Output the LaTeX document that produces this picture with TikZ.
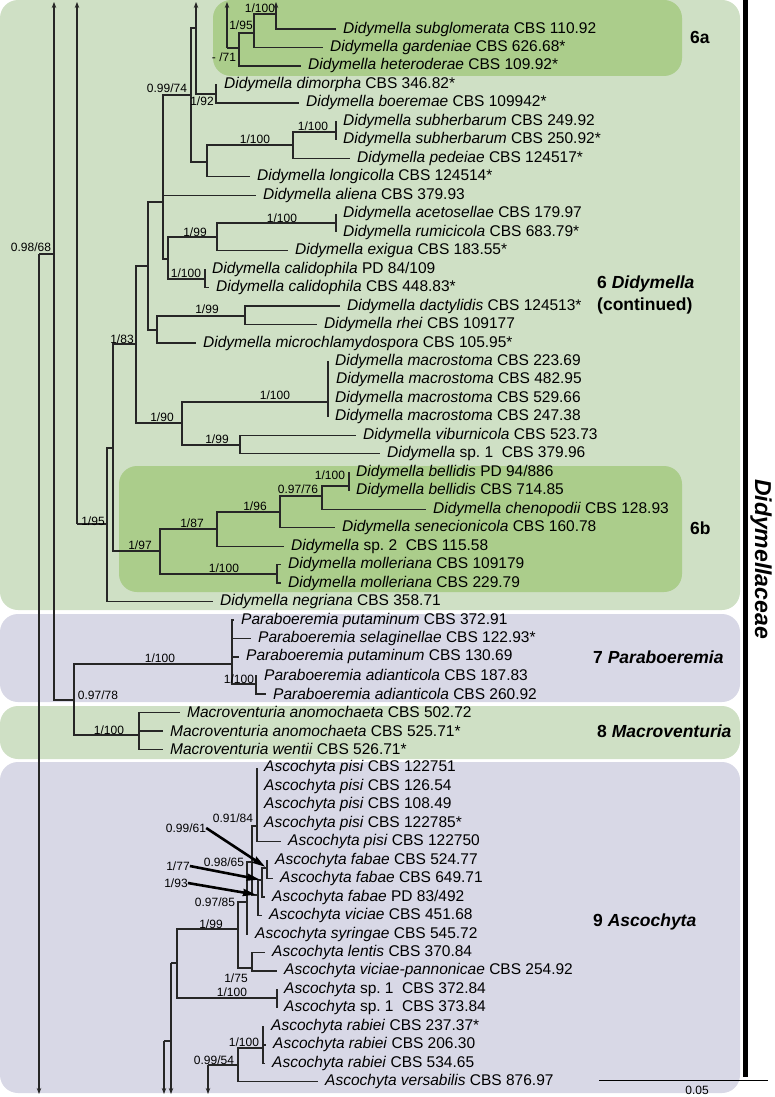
\documentclass[tikz,border=0pt]{standalone}
\usepackage{fontspec}
\setmainfont{Liberation Sans}
\usetikzlibrary{arrows.meta}
\definecolor{didgreen}{HTML}{CFE0C5}
\definecolor{subgreen}{HTML}{ABCD8B}
\definecolor{cladelila}{HTML}{D8D8E6}

\newcommand{\taxfont}{\fontsize{15.5}{18}\selectfont}
\newcommand{\supfont}{\fontsize{12}{14}\selectfont}
\newcommand{\cladefont}{\fontsize{17.5}{22}\selectfont\bfseries}

\tikzset{
  rama/.style={draw=black!85, line width=1.3pt},
  sigue/.style={rama, -{Stealth[length=6pt,width=4.5pt]}},
  taxon/.style={anchor=west, inner sep=0pt, font=\taxfont},
  soporte/.style={inner sep=0pt, font=\supfont},
  clado/.style={anchor=west, inner sep=0pt, font=\cladefont, align=left},
  flecha/.style={line width=2.6pt, -{Stealth[length=13pt,width=7pt,inset=1pt]}, shorten >=2pt},
  fondo/.style={rounded corners=18pt},
}

\begin{document}
\begin{tikzpicture}[x=1pt,y=-1pt]
  \useasboundingbox (0,0) rectangle (774,1097);

  % Fondos de los clados
  \fill[didgreen, fondo]  (0,0) rectangle (740,610);
  \fill[subgreen, fondo]  (213,0) rectangle (682,76);
  \fill[subgreen, fondo]  (119,466) rectangle (682,592);
  \fill[cladelila, fondo] (0,614) rectangle (740,702);
  \fill[didgreen, fondo]  (0,706) rectangle (740,759);
  \fill[cladelila, fondo] (0,762) rectangle (740,1093);

  % Terminales
  \foreach \i/\x/\lab in {
    1/336/{\textit{Didymella subglomerata} CBS 110.92},
    2/323/{\textit{Didymella gardeniae} CBS 626.68*},
    3/301/{\textit{Didymella heteroderae} CBS 109.92*},
    4/217/{\textit{Didymella dimorpha} CBS 346.82*},
    5/299/{\textit{Didymella boeremae} CBS 109942*},
    6/336/{\textit{Didymella subherbarum} CBS 249.92},
    7/336/{\textit{Didymella subherbarum} CBS 250.92*},
    8/350/{\textit{Didymella pedeiae} CBS 124517*},
    9/250/{\textit{Didymella longicolla} CBS 124514*},
    10/256/{\textit{Didymella aliena} CBS 379.93},
    11/336/{\textit{Didymella acetosellae} CBS 179.97},
    12/336/{\textit{Didymella rumicicola} CBS 683.79*},
    13/288/{\textit{Didymella exigua} CBS 183.55*},
    14/205/{\textit{Didymella calidophila} PD 84/109},
    15/209/{\textit{Didymella calidophila} CBS 448.83*},
    16/340/{\textit{Didymella dactylidis} CBS 124513*},
    17/317/{\textit{Didymella rhei} CBS 109177},
    18/196/{\textit{Didymella microchlamydospora} CBS 105.95*},
    19/328/{\textit{Didymella macrostoma} CBS 223.69},
    20/329/{\textit{Didymella macrostoma} CBS 482.95},
    21/328/{\textit{Didymella macrostoma} CBS 529.66},
    22/328/{\textit{Didymella macrostoma} CBS 247.38},
    23/356/{\textit{Didymella viburnicola} CBS 523.73},
    24/380/{\textit{Didymella} sp.\ 1\ \ CBS 379.96},
    25/349/{\textit{Didymella bellidis} PD 94/886},
    26/349/{\textit{Didymella bellidis} CBS 714.85},
    27/426/{\textit{Didymella chenopodii} CBS 128.93},
    28/335/{\textit{Didymella senecionicola} CBS 160.78},
    29/284/{\textit{Didymella} sp.\ 2\ \ CBS 115.58},
    30/281/{\textit{Didymella molleriana} CBS 109179},
    31/281/{\textit{Didymella molleriana} CBS 229.79},
    32/213/{\textit{Didymella negriana} CBS 358.71},
    33/234/{\textit{Paraboeremia putaminum} CBS 372.91},
    34/251/{\textit{Paraboeremia selaginellae} CBS 122.93*},
    35/239/{\textit{Paraboeremia putaminum} CBS 130.69},
    36/257/{\textit{Paraboeremia adianticola} CBS 187.83},
    37/266/{\textit{Paraboeremia adianticola} CBS 260.92},
    38/180/{\textit{Macroventuria anomochaeta} CBS 502.72},
    39/163/{\textit{Macroventuria anomochaeta} CBS 525.71*},
    40/163/{\textit{Macroventuria wentii} CBS 526.71*},
    41/257/{\textit{Ascochyta pisi} CBS 122751},
    42/257/{\textit{Ascochyta pisi} CBS 126.54},
    43/257/{\textit{Ascochyta pisi} CBS 108.49},
    44/257/{\textit{Ascochyta pisi} CBS 122785*},
    45/281/{\textit{Ascochyta pisi} CBS 122750},
    46/268/{\textit{Ascochyta fabae} CBS 524.77},
    47/273/{\textit{Ascochyta fabae} CBS 649.71},
    48/265/{\textit{Ascochyta fabae} PD 83/492},
    49/262/{\textit{Ascochyta viciae} CBS 451.68},
    50/248/{\textit{Ascochyta syringae} CBS 545.72},
    51/265/{\textit{Ascochyta lentis} CBS 370.84},
    52/277/{\textit{Ascochyta viciae-pannonicae} CBS 254.92},
    53/277/{\textit{Ascochyta} sp.\ 1\ \ CBS 372.84},
    54/277/{\textit{Ascochyta} sp.\ 1\ \ CBS 373.84},
    55/264/{\textit{Ascochyta rabiei} CBS 237.37*},
    56/266/{\textit{Ascochyta rabiei} CBS 206.30},
    57/265/{\textit{Ascochyta rabiei} CBS 534.65},
    58/318/{\textit{Ascochyta versabilis} CBS 876.97}}{
    \coordinate (t\i) at (\x,{29+18.47*(\i-1)});
    \node[taxon] (l\i) at ([xshift=7pt]t\i) {\lab};
  }

  % Nodos internos
  \foreach \n/\x/\y in {n1/276/14, n2/254/33, n3/239/48, c4/227/48,
    n5/196/28, n6/216/94, n7/191/95, n8/207/162, n9/293/145, n9b/336/132,
    n10/163/202, n11/168/259, n11a/217/237, n11c/336/223, n11b/205/279,
    n12/148/266, n13/157/330, n13a/245/316, n14/136/344, n15/182/423,
    n15a/328/402, n15b/240/445, n16/113/448, n17/107/524, n18/160/551,
    n18a/217/529, n18c/280/512, n18d/322/496, n18e/349/486, n18b/277/574,
    n19/77/524, n20/54/254, n21/39/254, n22/74/700, n23/232/664,
    n23a/256/684, n24/139/735,
    n31/164/1041, n32/171/963, n33/177/963, n34/238/929, n35/277/998,
    nA/247/902, nB/252/862, nP/257/826, nF3/258/895, nF2/262/880,
    nF1/267/868, n37/252/968, n38/208/1065, n39/238/1065, n40/263/1048}
    \coordinate (\n) at (\x,\y);
  \coordinate (arriba) at (0,2);
  \coordinate (abajo) at (0,1094);

  % Ramas
  \foreach \p/\c in {n1/t1, n2/n1, n2/t2, n3/n2, n3/t3, c4/n3, n5/n6,
    n6/t4, n6/t5, n7/n5, n7/n8, n8/n9, n8/t9, n9/n9b, n9/t8, n9b/t6,
    n9b/t7, n10/n7, n10/t10, n10/n11, n11/n11a, n11/n11b, n11a/n11c,
    n11a/t13, n11c/t11, n11c/t12, n11b/t14, n11b/t15, n12/n10, n12/n13,
    n13/n13a, n13/t18, n13a/t16, n13a/t17, n14/n12, n14/n15, n15/n15a,
    n15/n15b, n15a/t19, n15a/t20, n15a/t21, n15a/t22, n15b/t23, n15b/t24,
    n16/n14, n16/n18, n17/n16, n17/t32, n18/n18a, n18/n18b, n18a/n18c,
    n18a/t29, n18c/n18d, n18c/t28, n18d/n18e, n18d/t27, n18e/t25,
    n18e/t26, n18b/t30, n18b/t31, n19/n17, n21/n20, n20/n22, n22/n23,
    n22/n24, n23/t33, n23/t34, n23/t35, n23/n23a, n23a/t36, n23a/t37,
    n24/t38, n24/t39, n24/t40, n32/n33, n33/n34, n33/n35, n35/t53,
    n35/t54, n34/nA, n34/n37, nA/nB, nA/t50, nB/nP, nB/nF3, nP/t41,
    nP/t42, nP/t43, nP/t44, nP/t45, nF3/nF2, nF3/t49, nF2/nF1, nF2/t48,
    nF1/t46, nF1/t47, n37/t51, n37/t52, n38/n39, n39/n40, n39/t58,
    n40/t55, n40/t56, n40/t57}
    \draw[rama] (\p) |- (\c);
  \draw[rama] (n31) -- (n31 -| n32);

  % Ramas que siguen fuera de la figura
  \foreach \n in {n1,c4,n5,n19,n20}
    \draw[sigue] (\n) -- (\n |- arriba);
  \foreach \n in {n21,n31,n32,n38}
    \draw[sigue] (\n) -- (\n |- abajo);

  % Valores de soporte
  \foreach \nm/\x/\y/\s in {b1/260/8/{1/100}, b2/241/25/{1/95},
    b3/224/57/{- /71}, b4/167/88/{0.99/74}, b5/202/101/{1/92},
    b6/255/139/{1/100}, b7/313/126/{1/100}, b8/31/247/{0.98/68},
    b9/195/232/{1/99}, b10/282/218/{1/100}, b11/186/273/{1/100},
    b12/207/309/{1/99}, b13/122/339/{1/83}, b14/162/417/{1/90},
    b15/275/395/{1/100}, b16/217/439/{1/99}, b17/330/475/{1/100},
    b18/298/489/{0.97/76}, b19/255/506/{1/96}, b20/192/523/{1/87},
    b21/93/521/{1/95}, b22/140/545/{1/97}, b23/224/568/{1/100},
    b24/160/658/{1/100}, b25/239/679/{1/100}, b26/98/695/{0.97/78},
    b27/109/730/{1/100}, b28/233/818/{0.91/84}, b61/186/828/{0.99/61},
    b29/224/862/{0.98/65}, b77/178/866/{1/77}, b93/176/883/{1/93},
    b30/215/902/{0.97/85}, b31/211/924/{1/99}, b32/236/978/{1/75},
    b33/232/992/{1/100}, b34/244/1042/{1/100}, b35/214/1060/{0.99/54}}
    \node[soporte] (\nm) at (\x,\y) {\s};

  % Flechas hacia los nodos cortos
  \draw[flecha] (b61.east) -- (nF1);
  \draw[flecha] (b77.east) -- (nF2);
  \draw[flecha] (b93.east) -- (nF3);

  % Nombres de los clados
  \node[clado] (c6a) at (690,37) {6a};
  \node[clado] (c6) at (597,295) {6 \textit{Didymella}\\(continued)};
  \node[clado] (c6b) at (690,528) {6b};
  \node[clado] (c7) at (593,657) {7 \textit{Paraboeremia}};
  \node[clado] (c8) at (597,731) {8 \textit{Macroventuria}};
  \node[clado] (c9) at (593,922) {9 \textit{Ascochyta}};

  % Familia
  \fill (743,0) rectangle (748,1077);
  \node[rotate=-90, inner sep=0pt, font=\fontsize{23}{26}\selectfont\bfseries\itshape]
    (fam) at (761,559) {Didymellaceae};

  % Escala
  \coordinate (e0) at (599,1080);
  \coordinate (e1) at (768,1080);
  \draw[line width=0.9pt] (e0) -- (e1);
  \node[soporte] (escala) at (697,1090) {0.05};
\end{tikzpicture}
\end{document}
